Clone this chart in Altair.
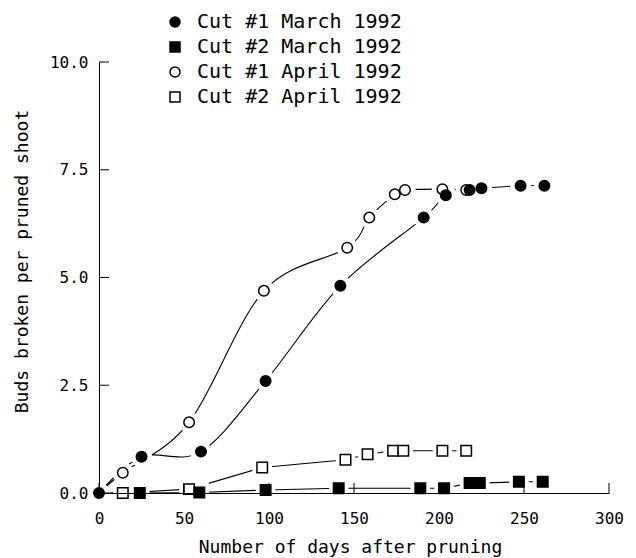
import altair as alt
import pandas as pd

# ---- data ----
series_names = ["Cut #1 March 1992", "Cut #2 March 1992", "Cut #1 April 1992", "Cut #2 April 1992"]

days_c1_mar = [0, 25, 60, 98, 142, 191, 204, 218, 225, 248, 262]
buds_c1_mar = [0, 0.84, 0.96, 2.60, 4.81, 6.39, 6.91, 7.03, 7.07, 7.13, 7.13]

days_c2_mar = [0, 24, 59, 98, 141, 189, 203, 218, 224, 247, 261]
buds_c2_mar = [0, 0, 0.01, 0.07, 0.11, 0.11, 0.11, 0.23, 0.23, 0.26, 0.26]

days_c1_apr = [0, 14, 53, 97, 146, 159, 174, 180, 202, 216]
buds_c1_apr = [0, 0.47, 1.64, 4.69, 5.69, 6.39, 6.93, 7.03, 7.05, 7.03]

days_c2_apr = [0, 14, 53, 96, 145, 158, 173, 179, 202, 216]
buds_c2_apr = [0, 0, 0.09, 0.59, 0.77, 0.90, 0.98, 0.98, 0.98, 0.98]

x_ticks = [0, 50, 100, 150, 200, 250, 300]
y_ticks = [0, 2.5, 5.0, 7.5, 10.0]

rows = []
# drawing order: open squares first, filled circles last (on top)
for name, ds, bs in [
    (series_names[3], days_c2_apr, buds_c2_apr),
    (series_names[2], days_c1_apr, buds_c1_apr),
    (series_names[1], days_c2_mar, buds_c2_mar),
    (series_names[0], days_c1_mar, buds_c1_mar),
]:
    for d, b in zip(ds, bs):
        rows.append({"series": name, "days": d, "buds": b})
df = pd.DataFrame(rows)

FONT = "DejaVu Sans Mono"
W, H = 510, 431

xscale = alt.Scale(domain=[0, 300], nice=False, zero=False)
yscale = alt.Scale(domain=[0, 10], nice=False)

x_axis = alt.Axis(values=x_ticks, format="d", title="Number of days after pruning",
                  labelPadding=17, labelFlush=False, titleX=251, titleY=59,
                  titleBaseline="alphabetic", zindex=1)
y_axis = alt.Axis(values=y_ticks, format=".1f", title="Buds broken per pruned shoot",
                  labelPadding=11, titleX=-77, titleY=199, titleAngle=270,
                  titleBaseline="middle", titleAlign="center", zindex=1)

x_enc = alt.X("days:Q", scale=xscale, axis=x_axis)
y_enc = alt.Y("buds:Q", scale=yscale, axis=y_axis)

base = alt.Chart(df)
cut1 = [series_names[0], series_names[2]]
cut2 = [series_names[1], series_names[3]]
# at the origin only the filled circle is visible in the original
shown = "datum.days > 0 || datum.series == '" + series_names[0] + "'"

lines1 = base.transform_filter(
    alt.FieldOneOfPredicate(field="series", oneOf=cut1)
).mark_line(interpolate="cardinal", color="black", strokeWidth=1.1).encode(
    x=x_enc, y=y_enc, detail="series:N"
)
lines2 = base.transform_filter(
    alt.FieldOneOfPredicate(field="series", oneOf=cut2)
).mark_line(color="black", strokeWidth=1.1).encode(
    x=x_enc, y=y_enc, detail="series:N"
)

halo_c = base.transform_filter(
    alt.FieldOneOfPredicate(field="series", oneOf=cut1)
).transform_filter(shown).mark_circle(color="white", opacity=1, size=452).encode(x=x_enc, y=y_enc)
halo_s = base.transform_filter(
    alt.FieldOneOfPredicate(field="series", oneOf=cut2)
).transform_filter(shown).mark_square(color="white", opacity=1, size=380).encode(x=x_enc, y=y_enc)

legend = alt.Legend(
    title=None, orient="none", legendX=66, legendY=-50,
    labelFont=FONT, labelFontSize=20, labelColor="black", labelOffset=12,
    symbolStrokeWidth=1.5, rowPadding=5, labelLimit=400,
)

markers = base.transform_filter(shown).mark_point(
    filled=True, strokeWidth=1.5, opacity=1, size=110
).encode(
    x=x_enc, y=y_enc,
    fill=alt.Fill("series:N", scale=alt.Scale(domain=series_names,
                  range=["black", "black", "white", "white"]), legend=legend),
    stroke=alt.Stroke("series:N", scale=alt.Scale(domain=series_names,
                      range=["black", "black", "black", "black"]), legend=legend),
    shape=alt.Shape("series:N", scale=alt.Scale(domain=series_names,
                    range=["circle", "square", "circle", "square"]), legend=legend),
)

# inward-pointing tick marks, placed through the same scales as the data
xt = alt.Chart(pd.DataFrame({"days": x_ticks})).mark_rule(color="black", strokeWidth=1).encode(
    x=x_enc, y=alt.value(H), y2=alt.value(H - 10)
)
yt = alt.Chart(pd.DataFrame({"buds": y_ticks})).mark_rule(color="black", strokeWidth=1).encode(
    y=y_enc, x=alt.value(0), x2=alt.value(10)
)

chart = alt.layer(lines1, lines2, halo_c, halo_s, markers, xt, yt).properties(
    width=W, height=H,
    autosize=alt.AutoSizeParams(type="none"),
    padding={"left": 91, "top": 54, "right": 19, "bottom": 65},
).configure_view(stroke=None).configure_axis(
    labelFont=FONT, labelFontSize=16, labelColor="black",
    titleFont=FONT, titleFontSize=18, titleFontWeight="normal", titleColor="black",
    domainColor="black", domainWidth=1, grid=False, ticks=False,
)

chart.save("out.html", embed_options={"renderer": "svg", "actions": False})
